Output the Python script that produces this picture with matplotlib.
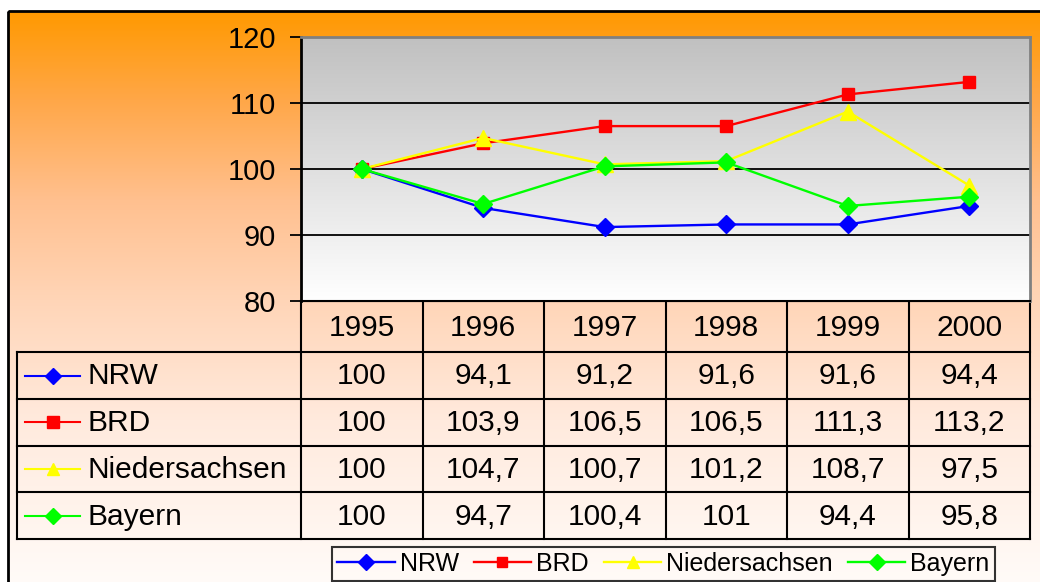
import matplotlib.pyplot as plt
import matplotlib.colors as mcolors
from matplotlib.patches import Rectangle
import numpy as np

plt.rcParams['font.family'] = ['Liberation Sans', 'DejaVu Sans']

years = ['1995', '1996', '1997', '1998', '1999', '2000']
nrw = [100, 94.1, 91.2, 91.6, 91.6, 94.4]
brd = [100, 103.9, 106.5, 106.5, 111.3, 113.2]
nieders = [100, 104.7, 100.7, 101.2, 108.7, 97.5]
bayern = [100, 94.7, 100.4, 101, 94.4, 95.8]

names = ['NRW', 'BRD', 'Niedersachsen', 'Bayern']
series = [nrw, brd, nieders, bayern]
colors = ['#0000FF', '#FF0000', '#FFFF00', '#00FF00']
markers = ['D', 's', '^', 'D']
msizes = [9.5, 9, 11, 9.5]

W, H = 1040, 582
fig = plt.figure(figsize=(W/100, H/100), dpi=100)
fig.patch.set_facecolor('white')

# background in pixel coords
bg = fig.add_axes([0, 0, 1, 1])
bg.set_xlim(0, W)
bg.set_ylim(H, 0)
bg.axis('off')

stops_y = [11, 100, 200, 300, 420, 582]
stops_c = ['#FF9900', '#FFA748', '#FFC08F', '#FFD5B7', '#FFEADD', '#FFFBF8']
rgb = np.array([mcolors.to_rgb(c) for c in stops_c])
yy = np.linspace(11, 582, 600)
grad = np.stack([np.interp(yy, stops_y, rgb[:, k]) for k in range(3)], axis=1)
bg.imshow(grad[:, None, :], extent=(8, 1042, 582, 11), aspect='auto',
          interpolation='bilinear', zorder=0)
bg.add_patch(Rectangle((8, 11), 1034, 580, fill=False, edgecolor='black', lw=2, zorder=5))

# plot area
x0, y0, x1, y1 = 301, 37, 1030, 301
ax = fig.add_axes([x0/W, 1 - y1/H, (x1 - x0)/W, (y1 - y0)/H])
ax.set_xlim(-0.5, len(years) - 0.5)
ax.set_ylim(80, 120)
pg = np.linspace(0, 1, 256)
pgrad = np.stack([0.753 + (1 - 0.753) * pg] * 3, axis=1)
ax.imshow(pgrad[:, None, :], extent=(0, 1, 0, 1), transform=ax.transAxes,
          aspect='auto', interpolation='bilinear', zorder=0, origin='upper')
for g in [90, 100, 110]:
    ax.axhline(g, color='black', lw=1.3, zorder=1)

xs = np.arange(len(years))
handles = []
for vals, name, c, m, ms in zip(series, names, colors, markers, msizes):
    ln, = ax.plot(xs, vals, color=c, marker=m, markersize=ms, lw=1.7,
                  markeredgecolor=c, label=name, zorder=3)
    handles.append(ln)

ax.set_xticks([])
ax.set_yticks([80, 90, 100, 110, 120])
ax.tick_params(axis='y', length=8, width=1.3, labelsize=21, pad=10, colors='black')
ax.spines['left'].set_color('black')
ax.spines['left'].set_linewidth(2)
for s in ['top', 'right']:
    ax.spines[s].set_color('#808080')
    ax.spines[s].set_linewidth(2)
ax.spines['bottom'].set_color('black')
ax.spines['bottom'].set_linewidth(1.5)

# data table
col_w = (x1 - x0) / len(years)
row_y = [301, 352, 399, 445.7, 492.3, 539]
lc = 'black'
tlw = 1.5
bg.plot([x0, x1], [row_y[0], row_y[0]], color=lc, lw=tlw, zorder=4)
for ry in row_y[1:]:
    bg.plot([17, x1], [ry, ry], color=lc, lw=tlw, zorder=4)
bg.plot([17, 17], [row_y[1], row_y[-1]], color=lc, lw=tlw, zorder=4)
for i in range(len(years) + 1):
    cx = x0 + i * col_w
    bg.plot([cx, cx], [row_y[0], row_y[-1]], color=lc, lw=tlw, zorder=4)

fs = 21.5
for i, yr in enumerate(years):
    bg.text(x0 + (i + 0.5) * col_w, (row_y[0] + row_y[1]) / 2 + 1, yr,
            ha='center', va='center', fontsize=fs, zorder=6)

for r, (vals, name, c, m) in enumerate(zip(series, names, colors, markers)):
    cy = (row_y[r + 1] + row_y[r + 2]) / 2
    bg.plot([25, 80], [cy, cy], color=c, lw=1.5, zorder=6)
    bg.plot([53], [cy], marker=m, markersize=8, color=c, zorder=6)
    bg.text(87, cy + 1, name, ha='left', va='center', fontsize=fs, zorder=6)
    for i, v in enumerate(vals):
        txt = f"{v:g}".replace('.', ',')
        bg.text(x0 + (i + 0.5) * col_w, cy + 1, txt, ha='center', va='center',
                fontsize=fs, zorder=6)

leg = fig.legend(handles=handles, loc='upper left',
                 bbox_to_anchor=(332/W, 1 - 547/H), ncol=4, fontsize=18,
                 frameon=True, fancybox=False, edgecolor='black', facecolor='none',
                 handlelength=2.3, handletextpad=0.2, columnspacing=0.6,
                 borderpad=0.2, borderaxespad=0, markerscale=0.85)
leg.get_frame().set_linewidth(1.5)

fig.savefig('out.png', dpi=100)
